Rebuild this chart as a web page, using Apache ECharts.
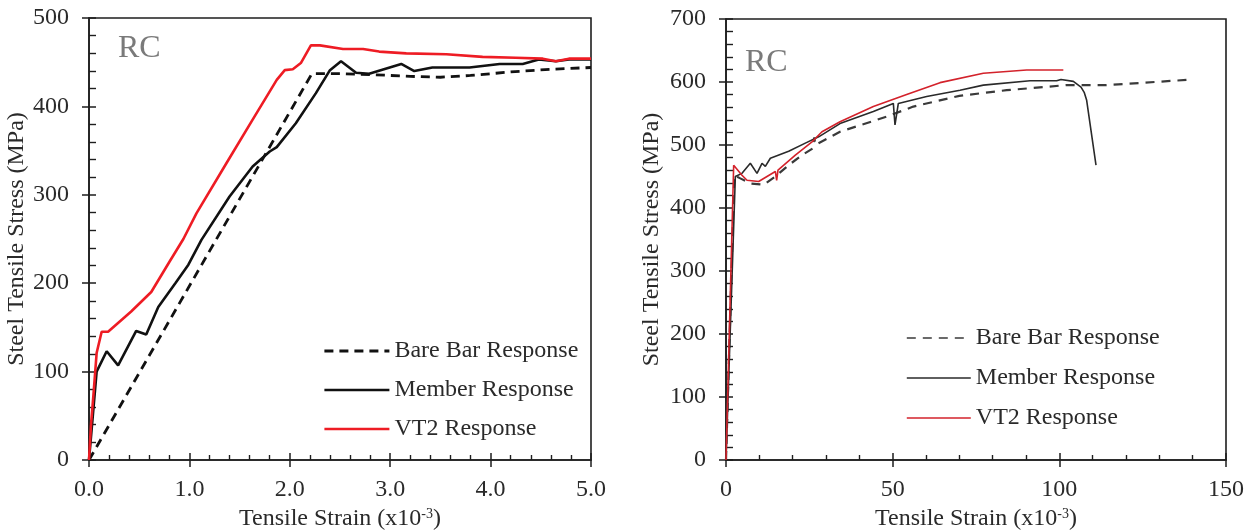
<!DOCTYPE html>
<html>
<head>
<meta charset="utf-8">
<title>RC steel tensile response</title>
<script src="https://cdn.jsdelivr.net/npm/echarts@6/dist/echarts.min.js"></script>
<style>
  html, body { margin: 0; padding: 0; background: #ffffff; }
  #chart { width: 1256px; height: 531px; }
</style>
</head>
<body>
<div id="chart"></div>
<script>
// Series names shared by both panels
const seriesNames = ['Bare Bar Response', 'Member Response', 'VT2 Response'];

// Pre-yield panel: strain (x10^-3), stress (MPa)
const preBareBar = [[0, 0], [2.22, 437], [2.5, 437], [2.8, 436], [3.2, 434], [3.5, 433], [3.8, 435], [4.2, 439], [4.6, 442], [5.0, 444]];
const preMember = [[0, 0], [0.076, 100], [0.176, 123], [0.29, 107], [0.47, 146], [0.57, 142], [0.69, 173], [0.86, 200], [0.99, 221], [1.12, 249], [1.40, 298], [1.63, 332], [1.80, 349], [1.87, 354], [2.06, 381], [2.26, 415], [2.40, 441], [2.51, 451], [2.66, 438], [2.79, 437], [3.11, 448], [3.24, 440], [3.42, 444], [3.79, 444], [4.09, 448], [4.32, 448], [4.48, 453], [4.65, 451], [4.78, 453], [5.0, 453]];
const preVT2 = [[0, 0], [0.02, 40], [0.043, 72], [0.076, 121], [0.126, 145], [0.19, 145], [0.42, 168], [0.62, 190], [0.80, 224], [0.94, 250], [1.07, 279], [1.37, 336], [1.63, 385], [1.87, 430], [1.95, 441], [2.03, 442], [2.11, 449], [2.21, 469], [2.30, 469], [2.53, 465], [2.73, 465], [2.89, 462], [3.16, 460], [3.56, 459], [3.92, 456], [4.25, 455], [4.52, 454], [4.65, 451], [4.78, 454], [5.0, 454]];

// Full-range panel: strain (x10^-3), stress (MPa)
const fullBareBar = [[0, 0], [2.5, 452], [4.3, 447], [7.3, 439], [11.3, 437], [14.8, 450], [18.8, 468], [22.8, 484], [26.2, 495], [26.5, 512], [26.8, 500], [34.2, 521], [48.2, 545], [56.2, 561], [70, 578], [84.2, 587], [102, 595], [114, 595], [140.2, 604]];
const fullMember = [[0, 0], [2.8, 450], [4.8, 455], [7.3, 471], [9.3, 455], [10.8, 471], [11.8, 466], [13.3, 479], [18.8, 490], [23.8, 503], [27.8, 513], [34.2, 534], [44.2, 553], [50.2, 566], [50.7, 532], [51.7, 566], [60.2, 577], [70.2, 587], [77.2, 595], [91.2, 602], [99.2, 602], [100.5, 604], [104.2, 601], [106.5, 592], [107.5, 583], [108.2, 571], [111, 468]];
const fullVT2 = [[0, 0], [2.3, 468], [4.8, 452], [6.3, 444], [9.8, 442], [14.8, 458], [15.2, 444], [15.6, 460], [20.8, 484], [25.8, 505], [28.8, 521], [34.2, 537], [44.2, 561], [54.2, 580], [64.2, 599], [77.2, 614], [90.2, 619], [101.2, 619]];

// Axis ranges
const preX = { min: 0, max: 5, interval: 1 };
const preY = { min: 0, max: 500, interval: 100 };
const fullX = { min: 0, max: 150, interval: 50 };
const fullY = { min: 0, max: 700, interval: 100 };

const panelLabel = 'RC';
const xName = 'Tensile Strain (x10{sup|-3})';
const yName = 'Steel Tensile Stress (MPa)';

const FONT = '"Liberation Serif", "Times New Roman", serif';
const FS = 24;
const INK = '#1e1e1e';
const TEXT = '#2a2a2a';

function mainXAxis(gridIndex, range, decimals, minorSplit) {
  return {
    type: 'value', gridIndex, position: 'bottom',
    min: range.min, max: range.max, interval: range.interval,
    name: xName, nameLocation: 'middle', nameGap: 44,
    nameTextStyle: {
      fontFamily: FONT, fontSize: FS, color: TEXT,
      rich: { sup: { fontFamily: FONT, fontSize: 14, color: TEXT, verticalAlign: 'top' } }
    },
    axisLine: { show: true, onZero: false, lineStyle: { color: INK, width: 1.6 } },
    axisTick: { show: true, inside: true, length: 7, lineStyle: { color: INK, width: 1.5 } },
    minorTick: { show: true, splitNumber: minorSplit, length: 5, lineStyle: { color: INK, width: 1.4 } },
    axisLabel: {
      margin: 18, fontFamily: FONT, fontSize: FS, color: TEXT,
      formatter: v => decimals ? v.toFixed(decimals) : String(v)
    },
    splitLine: { show: false }
  };
}

function outerXAxis(gridIndex, range) {
  // outward half of the major ticks, so they cross the axis line
  return {
    type: 'value', gridIndex, position: 'bottom',
    min: range.min, max: range.max, interval: range.interval,
    axisLine: { show: false },
    axisTick: { show: true, inside: false, length: 7, lineStyle: { color: INK, width: 1.5 } },
    axisLabel: { show: false }, splitLine: { show: false }
  };
}

function mainYAxis(gridIndex, range, nameGap) {
  return {
    type: 'value', gridIndex, position: 'left',
    min: range.min, max: range.max, interval: range.interval,
    name: yName, nameLocation: 'middle', nameGap: nameGap,
    nameTextStyle: { fontFamily: FONT, fontSize: FS, color: TEXT },
    axisLine: { show: true, onZero: false, lineStyle: { color: INK, width: 1.6 } },
    axisTick: { show: true, inside: true, length: 7, lineStyle: { color: INK, width: 1.5 } },
    minorTick: { show: true, splitNumber: 5, length: 7, lineStyle: { color: INK, width: 1.4 } },
    axisLabel: { margin: 20, fontFamily: FONT, fontSize: FS, color: TEXT },
    splitLine: { show: false }
  };
}

function outerYAxis(gridIndex, range) {
  return {
    type: 'value', gridIndex, position: 'left',
    min: range.min, max: range.max, interval: range.interval,
    axisLine: { show: false },
    axisTick: { show: true, inside: false, length: 7, lineStyle: { color: INK, width: 1.5 } },
    axisLabel: { show: false }, splitLine: { show: false }
  };
}

function lineSeries(name, data, axisIndex, style) {
  return {
    name, type: 'line', data,
    xAxisIndex: axisIndex, yAxisIndex: axisIndex,
    symbol: 'none', showSymbol: false, smooth: false, animation: false,
    color: style.color, itemStyle: { color: style.color },
    lineStyle: style, z: 3
  };
}

// Pre-yield panel styles (heavier strokes)
const preStyles = [
  { color: '#111111', width: 2.8, type: [9, 6] },
  { color: '#111111', width: 2.6, type: 'solid' },
  { color: '#ee1c24', width: 2.6, type: 'solid' }
];
// Full-range panel styles (lighter strokes)
const fullStyles = [
  { color: '#3a3a3a', width: 2.2, type: [9, 7] },
  { color: '#2a2a2a', width: 1.6, type: 'solid' },
  { color: '#d3222b', width: 1.6, type: 'solid' }
];

const legendText = { fontFamily: FONT, fontSize: FS, color: TEXT };
const hiddenSymbol = { opacity: 0, borderWidth: 0 };

const option = {
  backgroundColor: '#ffffff',
  animation: false,
  title: [
    { text: panelLabel, left: 113, top: 28, textStyle: { fontFamily: FONT, fontSize: 32, fontWeight: 'normal', color: '#7a7a7a' } },
    { text: panelLabel, left: 740, top: 42, textStyle: { fontFamily: FONT, fontSize: 32, fontWeight: 'normal', color: '#7a7a7a' } }
  ],
  grid: [
    { left: 89, top: 18, right: 665, bottom: 71, containLabel: false, outerBoundsMode: 'none',
      show: true, borderColor: INK, borderWidth: 1.6, backgroundColor: 'transparent' },
    { left: 726, top: 19, right: 30, bottom: 71, containLabel: false, outerBoundsMode: 'none',
      show: true, borderColor: INK, borderWidth: 1.6, backgroundColor: 'transparent' }
  ],
  xAxis: [
    mainXAxis(0, preX, 1, 5),
    mainXAxis(1, fullX, 0, 5),
    outerXAxis(0, preX),
    outerXAxis(1, fullX)
  ],
  yAxis: [
    mainYAxis(0, preY, 56),
    mainYAxis(1, fullY, 62),
    outerYAxis(0, preY),
    outerYAxis(1, fullY)
  ],
  legend: [
    {
      orient: 'vertical', left: 323, top: 339, padding: 0,
      itemWidth: 65, itemHeight: 14, itemGap: 15, itemTextGap: 7,
      textStyle: legendText, selectedMode: false,
      data: seriesNames.map((n, i) => ({ name: n, lineStyle: preStyles[i], itemStyle: hiddenSymbol }))
    },
    {
      orient: 'vertical', left: 906, top: 326, padding: 0,
      itemWidth: 64, itemHeight: 14, itemGap: 16, itemTextGap: 7,
      textStyle: legendText, selectedMode: false,
      data: seriesNames.map((n, i) => ({
        name: n,
        lineStyle: Object.assign({}, fullStyles[i], { width: i === 0 ? 1.4 : 1.6 }),
        itemStyle: hiddenSymbol
      }))
    }
  ],
  series: [
    lineSeries(seriesNames[0], preBareBar, 0, preStyles[0]),
    lineSeries(seriesNames[1], preMember, 0, preStyles[1]),
    lineSeries(seriesNames[2], preVT2, 0, preStyles[2]),
    lineSeries(seriesNames[0], fullBareBar, 1, fullStyles[0]),
    lineSeries(seriesNames[1], fullMember, 1, fullStyles[1]),
    lineSeries(seriesNames[2], fullVT2, 1, fullStyles[2])
  ]
};

const chart = echarts.init(document.getElementById('chart'), null, { renderer: 'canvas' });
chart.setOption(option);
</script>
</body>
</html>
